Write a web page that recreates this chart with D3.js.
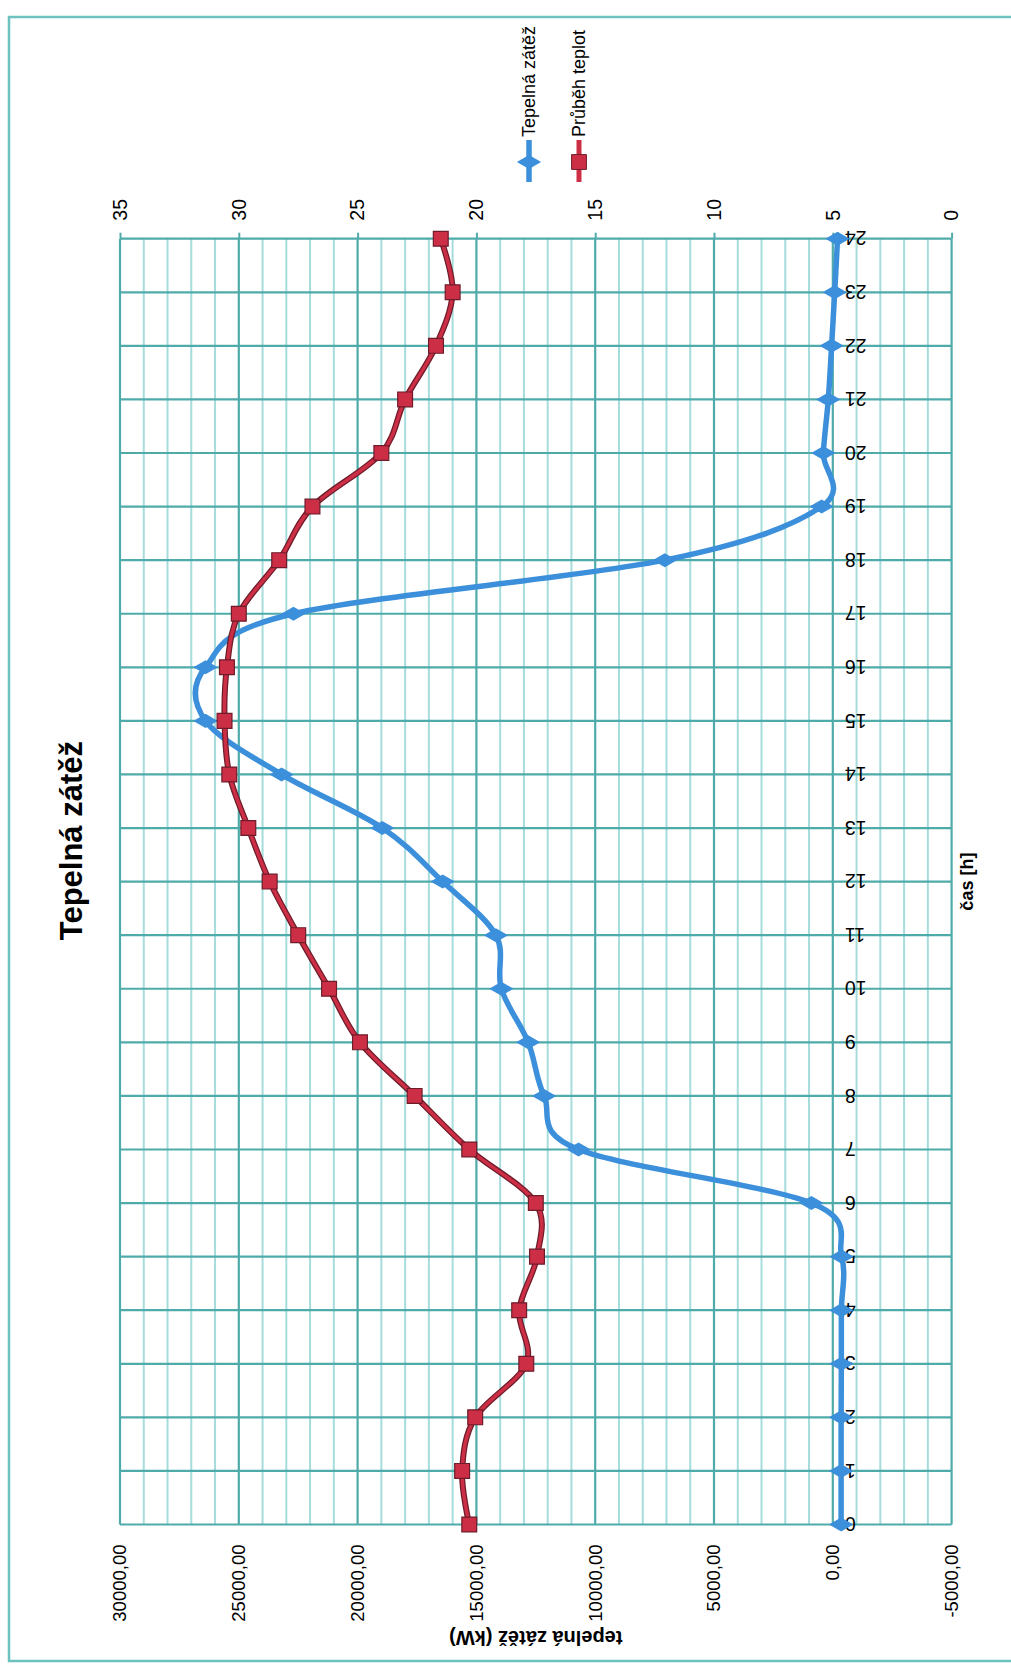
<!DOCTYPE html>
<html>
<head>
<meta charset="utf-8">
<script src="https://cdn.jsdelivr.net/npm/d3@7"></script>
<style>
  body { margin: 0; background: #fff; }
  text { font-family: "Liberation Sans", Arial, sans-serif; fill: #000; }
</style>
</head>
<body>
<div id="chart"></div>
<script>
// data (hour of day, heat load kW, temperature °C)
var hours = [0,1,2,3,4,5,6,7,8,9,10,11,12,13,14,15,16,17,18,19,20,21,22,23,24];
var heatLoad = [-350,-350,-350,-360,-360,-370,900,10700,12150,12820,13950,14180,16420,18960,23200,26400,26400,22700,7070,470,400,190,50,-80,-200];
var temperature = [20.3,20.6,20.05,17.9,18.2,17.45,17.5,20.3,22.6,24.9,26.2,27.5,28.7,29.6,30.4,30.6,30.5,30.0,28.3,26.9,24.0,23.0,21.7,21.0,21.5];
var kwTicks = [-5000,0,5000,10000,15000,20000,25000,30000];
var tempTicks = [0,5,10,15,20,25,30,35];
var seriesNames = ["Tepelná zátěž", "Průběh teplot"];

var W = 1011, H = 1664;
var major = "#4fabaa", minor = "#a6dcdc", blue = "#3b8fdb", red = "#cc2f45", redDark = "#6e1b2a";

var svg = d3.select("#chart").append("svg")
    .attr("width", W).attr("height", H);
svg.append("rect").attr("width", W).attr("height", H).attr("fill", "#fff");
svg.append("rect").attr("x", 9).attr("y", 17).attr("width", W).attr("height", 1644)
    .attr("fill", "none").attr("stroke", "#6cc2c0").attr("stroke-width", 2.5);

// the whole excel chart is turned a quarter turn to the left
var g = svg.append("g").attr("transform", "translate(0," + H + ") rotate(-90)");

var pLeft = 139.5, pRight = 1425.3, pTop = 120, pBottom = 951.6;

var x = d3.scaleLinear().domain([0, 24]).range([pLeft, pRight]);
var yKw = d3.scaleLinear().domain([-5000, 30000]).range([pBottom, pTop]);
var yT = d3.scaleLinear().domain([0, 35]).range([pBottom, pTop]);

// grid
g.append("g").selectAll("line")
  .data(d3.range(-5000, 30001, 1000).filter(function(v) { return v % 5000 !== 0; }))
  .enter().append("line")
    .attr("x1", pLeft).attr("x2", pRight)
    .attr("y1", function(d) { return yKw(d); }).attr("y2", function(d) { return yKw(d); })
    .attr("stroke", minor).attr("stroke-width", 2);
g.append("g").selectAll("line")
  .data(kwTicks)
  .enter().append("line")
    .attr("x1", pLeft).attr("x2", pRight)
    .attr("y1", function(d) { return yKw(d); }).attr("y2", function(d) { return yKw(d); })
    .attr("stroke", major).attr("stroke-width", 2.2);
g.append("g").selectAll("line")
  .data(hours)
  .enter().append("line")
    .attr("x1", function(d) { return x(d); }).attr("x2", function(d) { return x(d); })
    .attr("y1", pTop).attr("y2", pBottom)
    .attr("stroke", major).attr("stroke-width", 2.2);

// left axis (kW)
var fmt = function(v) { return v.toFixed(2).replace(".", ","); };
var ax1 = g.append("g").attr("transform", "translate(" + pLeft + ",0)")
  .call(d3.axisLeft(yKw).tickValues(kwTicks).tickFormat(fmt).tickSize(0).tickPadding(20));
ax1.select(".domain").remove();
ax1.selectAll("text").style("font-size", "18.5px").style("font-family", null);

// right axis (temperature)
var ax2 = g.append("g").attr("transform", "translate(" + pRight + ",0)")
  .call(d3.axisRight(yT).tickValues(tempTicks).tickSize(6).tickPadding(12));
ax2.select(".domain").remove();
ax2.selectAll("line").attr("stroke", major).attr("stroke-width", 2);
ax2.selectAll("text").style("font-size", "19.5px").style("font-family", null);

// hour axis at 0 kW
var ax3 = g.append("g").attr("transform", "translate(0," + yKw(0) + ")")
  .call(d3.axisBottom(x).tickValues(hours).tickSize(0));
ax3.select(".domain").remove();
ax3.selectAll("text")
  .attr("transform", "rotate(-90)")
  .attr("x", -12).attr("y", 0).attr("dy", "0.35em")
  .attr("text-anchor", "end")
  .style("font-size", "19.5px").style("font-family", null);

// series
var lineKw = d3.line()
  .x(function(d, i) { return x(hours[i]); })
  .y(function(d) { return yKw(d); })
  .curve(d3.curveCardinal.tension(0));
var lineT = d3.line()
  .x(function(d, i) { return x(hours[i]); })
  .y(function(d) { return yT(d); })
  .curve(d3.curveCardinal.tension(0));

g.append("path").datum(heatLoad).attr("d", lineKw)
  .attr("fill", "none").attr("stroke", blue).attr("stroke-width", 5.5);
g.append("g").selectAll("path").data(heatLoad).enter().append("path")
  .attr("d", d3.symbol(d3.symbolDiamond, 170))
  .attr("transform", function(d, i) { return "translate(" + x(hours[i]) + "," + yKw(d) + ")"; })
  .attr("fill", blue);

g.append("path").datum(temperature).attr("d", lineT)
  .attr("fill", "none").attr("stroke", redDark).attr("stroke-width", 6);
g.append("path").datum(temperature).attr("d", lineT)
  .attr("fill", "none").attr("stroke", red).attr("stroke-width", 3.5);
g.append("g").selectAll("path").data(temperature).enter().append("path")
  .attr("d", d3.symbol(d3.symbolSquare, 220))
  .attr("transform", function(d, i) { return "translate(" + x(hours[i]) + "," + yT(d) + ")"; })
  .attr("fill", red).attr("stroke", redDark).attr("stroke-width", 1.2);

// titles
g.append("text").attr("x", (pLeft + pRight) / 2 + 41).attr("y", 82)
  .attr("text-anchor", "middle").style("font-size", "31px").style("font-weight", "bold")
  .text("Tepelná zátěž");
g.append("text").attr("transform", "translate(26," + (pTop + pBottom) / 2 + ") rotate(-90)")
  .attr("dy", "0.35em").attr("text-anchor", "middle")
  .style("font-size", "20px").style("font-weight", "bold")
  .text("tepelná zátěž (kW)");
g.append("text").attr("x", (pLeft + pRight) / 2).attr("y", 967).attr("dy", "0.35em")
  .attr("text-anchor", "middle").style("font-size", "18px").style("font-weight", "bold")
  .text("čas [h]");

// legend
var legend = g.append("g").selectAll("g").data(seriesNames).enter().append("g")
  .attr("transform", function(d, i) { return "translate(1482," + (529 + i * 50) + ")"; });
legend.append("line").attr("x1", 0).attr("x2", 42).attr("y1", 0).attr("y2", 0)
  .attr("stroke", function(d, i) { return i ? red : blue; }).attr("stroke-width", function(d, i) { return i ? 5 : 5.5; });
legend.append("path")
  .attr("d", function(d, i) { return d3.symbol(i ? d3.symbolSquare : d3.symbolDiamond, i ? 220 : 170)(); })
  .attr("transform", "translate(20,0)")
  .attr("fill", function(d, i) { return i ? red : blue; })
  .attr("stroke", function(d, i) { return i ? redDark : "none"; });
legend.append("text").attr("x", 45).attr("dy", "0.35em")
  .style("font-size", "18px").text(function(d) { return d; });
</script>
</body>
</html>
